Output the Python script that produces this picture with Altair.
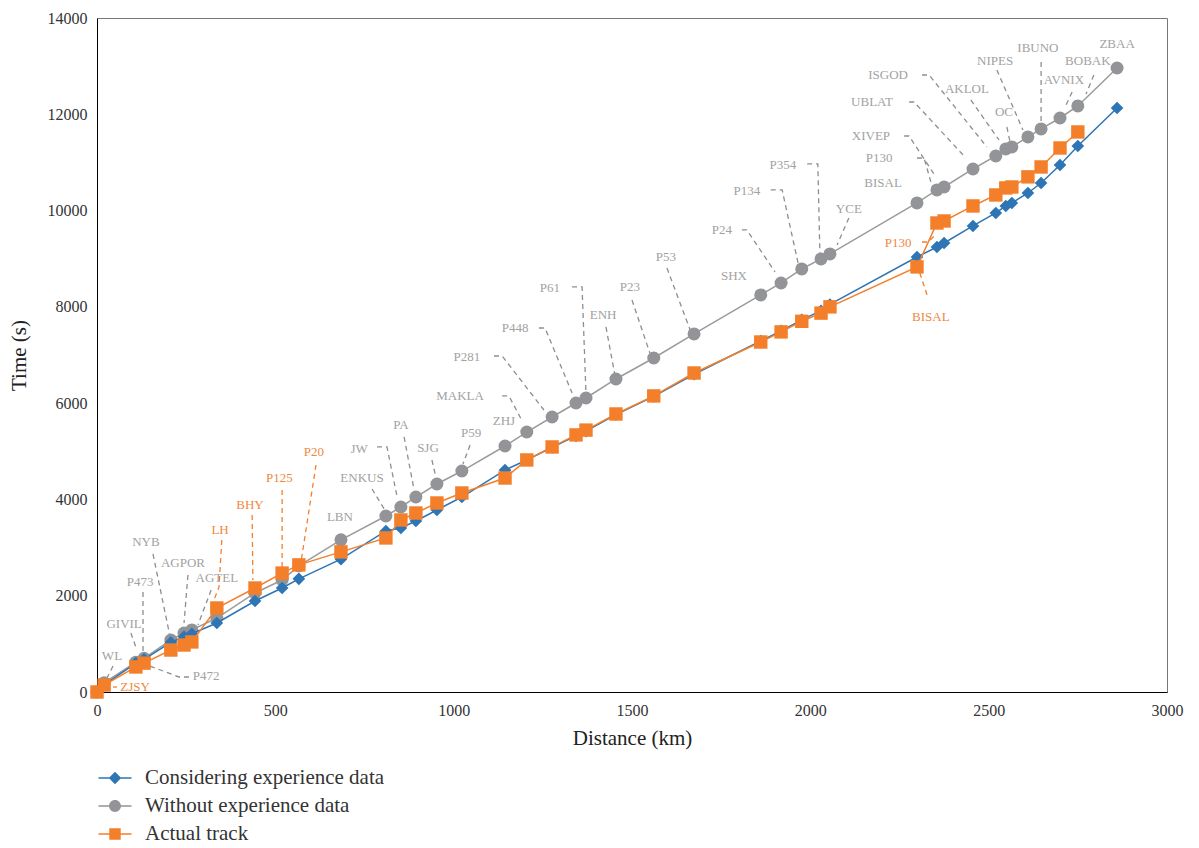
import altair as alt
import pandas as pd

# ---------------- data ----------------
waypoint_km = [0, 20, 109, 132, 207, 244, 266, 336, 443, 519, 566, 684, 810, 852, 894,
               953, 1023, 1144, 1205, 1276, 1343, 1371, 1455, 1561, 1674, 1861, 1918,
               1976, 2030, 2055, 2299, 2355, 2375, 2456, 2520, 2548, 2565, 2610, 2647,
               2700, 2750, 2860]

time_considering = [0, 150, 600, 680, 1030, 1150, 1210, 1433, 1890, 2160, 2350, 2760,
                    3345, 3407, 3552, 3780, 4050, 4610, 4820, 5080, 5320, 5420, 5760,
                    6140, 6600, 7290, 7500, 7730, 7920, 8050, 9035, 9244, 9327, 9680,
                    9950, 10095, 10158, 10365, 10573, 10947, 11342, 12131]

time_without = [0, 190, 620, 700, 1080, 1225, 1290, 1537, 2057, 2326, 2620, 3160, 3656,
                3843, 4050, 4320, 4590, 5110, 5400, 5712, 6003, 6107, 6502, 6938, 7437,
                8247, 8496, 8787, 8995, 9099, 10158, 10428, 10490, 10864, 11134, 11280,
                11322, 11530, 11695, 11923, 12173, 12962]

# actual track ends at BOBAK (no ZBAA point)
time_actual = [0, 145, 520, 600, 872, 976, 1040, 1745, 2160, 2470, 2640, 2910, 3200,
               3573, 3718, 3926, 4134, 4445, 4820, 5090, 5340, 5440, 5775, 6150, 6626,
               7270, 7480, 7700, 7870, 8000, 8830, 9742, 9784, 10096, 10324, 10470,
               10490, 10700, 10906, 11300, 11633]

series_names = ["Considering experience data", "Without experience data", "Actual track"]

# waypoint annotations (grey), anchored in data units
gray_label_text = ["WL", "GIVIL", "P473", "NYB", "AGPOR", "AGTEL", "P472", "LBN", "ENKUS",
                   "JW", "PA", "SJG", "P59", "ZHJ", "MAKLA", "P281", "P448", "P61", "ENH",
                   "P23", "P53", "SHX", "P24", "P134", "P354", "YCE", "BISAL", "P130",
                   "XIVEP", "UBLAT", "ISGOD", "AKLOL", "OC", "NIPES", "IBUNO", "AVNIX",
                   "BOBAK", "ZBAA"]
gray_label_km = [42, 76, 121, 137, 241, 336, 306, 681, 743, 735, 852, 928, 1049, 1141,
                 1018, 1037, 1172, 1270, 1419, 1494, 1595, 1786, 1752, 1822, 1923, 2108,
                 2204, 2193, 2170, 2173, 2218, 2439, 2543, 2518, 2638, 2711, 2778, 2860]
gray_label_t = [748, 1412, 2285, 3116, 2680, 2368, 332, 3635, 4445, 5048, 5546, 5068,
                5380, 5629, 6149, 6959, 7561, 8392, 7831, 8413, 9036, 8641, 9597, 10407,
                10947, 10033, 10573, 11092, 11549, 12255, 12816, 12526, 12048, 13107,
                13377, 12712, 13107, 13460]

# grey leader lines: label -> polyline (km list, s list)
gray_leader_name = ["WL", "GIVIL", "P473", "NYB", "AGPOR", "AGTEL", "P472", "ENKUS", "JW",
                    "PA", "SJG", "P59", "MAKLA", "P281", "P448", "P61", "ENH", "P23", "P53",
                    "P24", "P134", "P354", "YCE", "P130", "XIVEP", "UBLAT", "ISGOD",
                    "AKLOL", "OC", "NIPES", "IBUNO", "AVNIX", "BOBAK"]
gray_leader_km = [[45, 25], [95, 112], [129, 129], [157, 205], [255, 244], [320, 283],
                  [258, 230, 118], [771, 807], [785, 813, 841], [861, 889], [939, 950],
                  [1046, 1026], [1136, 1155, 1192], [1113, 1136, 1253], [1239, 1256, 1332],
                  [1332, 1360, 1371], [1427, 1452], [1500, 1550], [1598, 1663],
                  [1808, 1822, 1901], [1889, 1921, 1968], [1991, 2021, 2027], [2108, 2075],
                  [2299, 2319, 2341], [2263, 2277, 2352], [2277, 2291, 2436],
                  [2313, 2333, 2495], [2450, 2529], [2551, 2560], [2523, 2596],
                  [2647, 2647], [2734, 2717], [2795, 2773]]
gray_leader_t = [[540, 249], [1226, 872], [2077, 810], [2867, 1142], [2430, 1433],
                 [2119, 1392], [312, 312, 623], [4217, 3781], [5090, 5090, 4071],
                 [5297, 4196], [4819, 4466], [5131, 4736], [6149, 6149, 5629],
                 [6979, 6979, 5858], [7561, 7561, 6211], [8413, 8413, 6211], [7582, 6585],
                 [8143, 7042], [8807, 7519], [9597, 9597, 8724], [10428, 10428, 8828],
                 [10968, 10968, 9036], [9846, 9285], [11092, 11092, 10512],
                 [11549, 11549, 10698], [12255, 12255, 11092], [12816, 12816, 11321],
                 [12297, 11466], [11736, 11425], [12920, 11674], [13086, 11819],
                 [12463, 12193], [12816, 12422]]

# actual-track annotations (orange)
orange_label_text = ["ZJSY", "LH", "BHY", "P125", "P20", "P130", "BISAL"]
orange_label_km = [107, 345, 429, 511, 608, 2246, 2338]
orange_label_t = [104, 3365, 3884, 4445, 4985, 9327, 7790]
orange_leader_km = [[45, 56], [350, 342, 328], [435, 437], [519, 519], [614, 572],
                    [2313, 2330, 2350], [2307, 2330]]
orange_leader_t = [[104, 104], [3157, 2181, 1911], [3677, 2326], [4196, 2597],
                   [4715, 2700], [9347, 9347, 9493], [8704, 8185]]

# ---------------- styling ----------------
BLUE = "#2E75B6"
GRAY = "#929497"
GRAY_LINE = "#9B9B9B"
ORANGE = "#F47F2A"
GRAY_TEXT = "#A2A2A2"
ORANGE_TEXT = "#F0883E"
FONT = "Liberation Serif"

# ---------------- tables ----------------
df_c = pd.DataFrame({"km": waypoint_km, "t": time_considering})
df_w = pd.DataFrame({"km": waypoint_km, "t": time_without})
df_a = pd.DataFrame({"km": waypoint_km[:len(time_actual)], "t": time_actual})

df_all = pd.concat([
    df_c.assign(series=series_names[0]),
    df_w.assign(series=series_names[1]),
    df_a.assign(series=series_names[2]),
])

df_glab = pd.DataFrame({"km": gray_label_km, "t": gray_label_t, "label": gray_label_text})
df_olab = pd.DataFrame({"km": orange_label_km, "t": orange_label_t, "label": orange_label_text})


def leader_table(names, kms, ts):
    rows = []
    for n, ks, tt in zip(names, kms, ts):
        for i, (k, v) in enumerate(zip(ks, tt)):
            rows.append({"id": n, "order": i, "km": k, "t": v})
    return pd.DataFrame(rows)


df_gl = leader_table(gray_leader_name, gray_leader_km, gray_leader_t)
df_ol = leader_table(["o_" + s for s in orange_label_text], orange_leader_km, orange_leader_t)

X = alt.X("km:Q", title="Distance (km)",
          scale=alt.Scale(domain=[0, 3000], nice=False, zero=True),
          axis=alt.Axis(values=list(range(0, 3001, 500)), format="d", titlePadding=9,
                        labelFlush=False))
Y = alt.Y("t:Q", title="Time (s)",
          scale=alt.Scale(domain=[0, 14000], nice=False, zero=True),
          axis=alt.Axis(values=list(range(0, 14001, 2000)), format="d", titlePadding=18,
                        labelFlush=False))

gray_leaders = alt.Chart(df_gl).mark_line(
    color="#8E8E8E", strokeWidth=1.3, strokeDash=[5, 4]
).encode(x=X, y=Y, detail="id:N", order="order:Q")

orange_leaders = alt.Chart(df_ol).mark_line(
    color=ORANGE, strokeWidth=1.3, strokeDash=[5, 4]
).encode(x=X, y=Y, detail="id:N", order="order:Q")

gray_line = alt.Chart(df_w).mark_line(color=GRAY_LINE, strokeWidth=1.5).encode(x=X, y=Y)
gray_pts = alt.Chart(df_w).mark_point(
    shape="circle", filled=True, size=169, color=GRAY, opacity=1
).encode(x=X, y=Y)

blue_line = alt.Chart(df_c).mark_line(color=BLUE, strokeWidth=1.5).encode(x=X, y=Y)
blue_pts = alt.Chart(df_c).mark_point(
    shape="diamond", filled=True, size=160, color=BLUE, opacity=1
).encode(x=X, y=Y)

orange_line = alt.Chart(df_a).mark_line(color=ORANGE, strokeWidth=1.5).encode(x=X, y=Y)
orange_pts = alt.Chart(df_a).mark_square(
    size=180, color=ORANGE, opacity=1
).encode(x=X, y=Y)

# legend symbols: a short line with the series marker (symbol box 26 px, line 33 px)
legend_paths = [
    "M-1.27,-0.065H1.27V0.065H-1.27Z M0,-0.48L0.48,0L0,0.48L-0.48,0Z",
    "M-1.27,-0.065H1.27V0.065H-1.27Z M-0.46,0A0.46,0.46 0 1,1 0.46,0A0.46,0.46 0 1,1 -0.46,0Z",
    "M-1.27,-0.065H1.27V0.065H-1.27Z M-0.44,-0.44H0.44V0.44H-0.44Z",
]
leg = alt.Legend(
    title=None, orient="none", legendX=5, legendY=747, direction="vertical",
    symbolSize=676, symbolOpacity=1, symbolStrokeWidth=0,
    labelFont=FONT, labelFontSize=21, labelColor="#333333", labelOffset=17,
    rowPadding=5, padding=0, labelLimit=400,
)
legend_layer = alt.Chart(df_all).mark_point(filled=True, opacity=0, size=676).encode(
    x=X, y=Y,
    color=alt.Color("series:N", scale=alt.Scale(domain=series_names,
                                                range=[BLUE, GRAY, ORANGE]), legend=leg),
    shape=alt.Shape("series:N", scale=alt.Scale(domain=series_names, range=legend_paths),
                    legend=leg),
)

gray_text = alt.Chart(df_glab).mark_text(
    font=FONT, fontSize=13, color=GRAY_TEXT, align="center", baseline="middle"
).encode(x=X, y=Y, text="label:N")
orange_text = alt.Chart(df_olab).mark_text(
    font=FONT, fontSize=13, color=ORANGE_TEXT, align="center", baseline="middle"
).encode(x=X, y=Y, text="label:N")

chart = alt.layer(
    gray_leaders, orange_leaders,
    gray_line, gray_pts,
    blue_line, blue_pts,
    orange_line, orange_pts,
    legend_layer,
    gray_text, orange_text,
).properties(
    width=1070, height=674,
    padding={"left": 0, "top": 2, "right": 5, "bottom": 0},
    background="white",
).configure_axis(
    labelFont=FONT, labelFontSize=16, labelColor="#333333",
    titleFont=FONT, titleFontSize=21, titleColor="#222222", titleFontWeight="normal",
    grid=False, ticks=False, domainColor="#000000", domainWidth=1, labelPadding=10,
).configure_view(stroke="#777777", strokeWidth=1)

chart.save("out.html", embed_options={"renderer": "svg", "actions": False})
